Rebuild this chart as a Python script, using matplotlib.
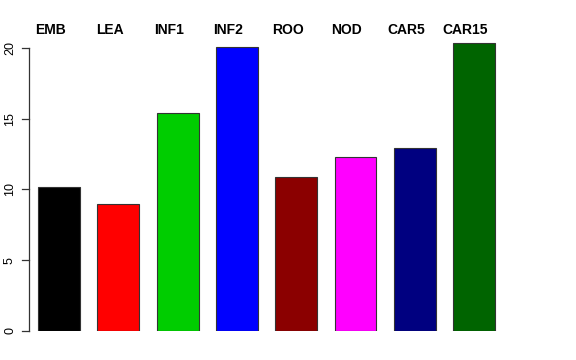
import matplotlib
matplotlib.use("Agg")
import matplotlib.pyplot as plt
import matplotlib.transforms as mtransforms
import numpy as np

# bar data
labels = ["EMB", "LEA", "INF1", "INF2", "ROO", "NOD", "CAR5", "CAR15"]
values = [10.2, 8.95, 15.43, 20.07, 10.9, 12.27, 12.91, 20.37]
colors = ["#000000", "#FF0000", "#00CD00", "#0000FF",
          "#8B0000", "#FF00FF", "#000080", "#006400"]
yticks = [0, 5, 10, 15, 20]

W, H = 576, 360
fig = plt.figure(figsize=(W / 100, H / 100), dpi=100)

# axes placed in pixel terms: y=0 at 331px, 14.15 px per unit
px_per_unit = 14.15
ymax = 21.0
y0_px = 331
top_px = y0_px - ymax * px_per_unit
left_px, right_px = 29, 540
ax = fig.add_axes([left_px / W, 1 - y0_px / H,
                   (right_px - left_px) / W, (y0_px - top_px) / H])

x = np.arange(len(labels))
ax.bar(x, values, width=0.708, color=colors, edgecolor="#333333", linewidth=0.8)

step = 59.3
ax.set_xlim(-(59 - left_px) / step, (right_px - 59) / step)
ax.set_ylim(0, ymax)

# category names above the bars (sit slightly left of bar centres)
trans = mtransforms.blended_transform_factory(ax.transData, fig.transFigure)
trans = trans + mtransforms.ScaledTranslation(-8.5 / 100, 0, fig.dpi_scale_trans)
for xi, lab in zip(x, labels):
    ax.text(xi, 1 - 30.3 / H, lab, transform=trans,
            ha="center", va="center", fontsize=10, fontweight="bold",
            family=["Liberation Sans", "DejaVu Sans"])

# R-style y axis: line from 0 to 20 with outward ticks
for s in ["top", "right", "bottom", "left"]:
    ax.spines[s].set_visible(False)
ytrans = mtransforms.blended_transform_factory(ax.transAxes, ax.transData)
tick_len = 7 / (right_px - left_px)
ax.plot([0, 0], [yticks[0], yticks[-1]], color="#333333", lw=0.9,
        transform=ytrans, clip_on=False)
for t in yticks:
    ax.plot([-tick_len, 0], [t, t], color="#333333", lw=0.9,
            transform=ytrans, clip_on=False)
    ax.text(-tick_len - 12 / (right_px - left_px), t, str(t), transform=ytrans,
            rotation=90, ha="center", va="center", fontsize=9,
            family=["Liberation Sans", "DejaVu Sans"])
ax.set_xticks([])
ax.set_yticks([])

fig.savefig("out.png", dpi=100)
